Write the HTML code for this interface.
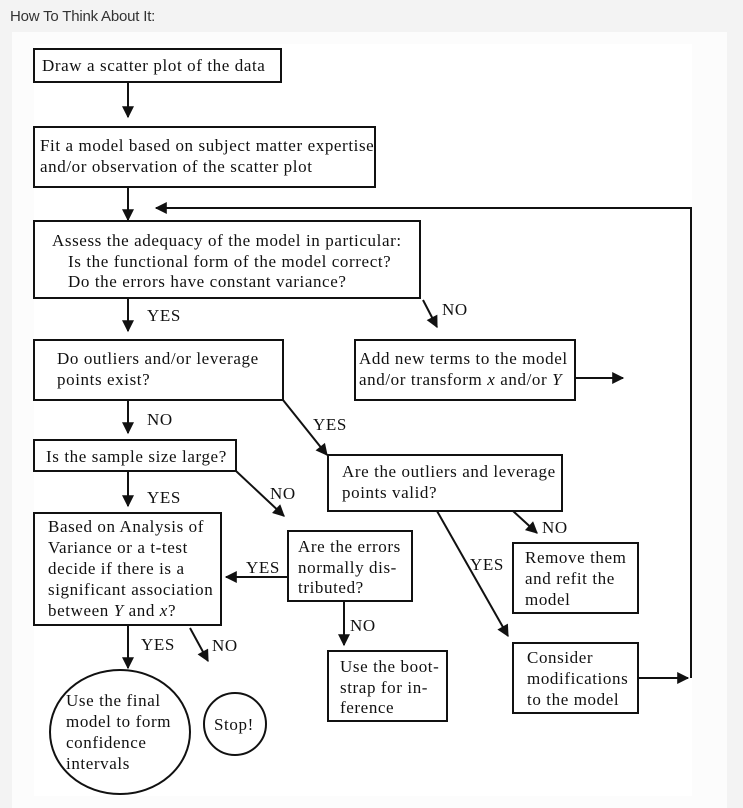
<!DOCTYPE html>
<html><head><meta charset="utf-8"><style>
html,body{margin:0;padding:0;background:#f3f3f3;width:743px;height:808px;overflow:hidden}
.h{position:absolute;left:10px;top:8px;font:15px "Liberation Sans",sans-serif;color:#333;letter-spacing:-0.2px}
.p{position:absolute;left:12px;top:32px;width:715px;height:776px;background:#fcfcfc}
svg{position:absolute;left:0;top:0}
text{font-family:"Liberation Serif",serif;font-size:17px;letter-spacing:0.6px;fill:#111}
</style></head><body>
<div class="h">How To Think About It:</div>
<div class="p"></div>
<svg width="743" height="808" viewBox="0 0 743 808">
<defs><marker id="a" viewBox="0 0 10 10" refX="9" refY="5" markerWidth="13" markerHeight="12" markerUnits="userSpaceOnUse" orient="auto"><path d="M0,0L10,5L0,10z" fill="#111"/></marker></defs>
<rect x="34" y="44" width="658" height="752" fill="#fff"/>
<g fill="none" stroke="#111" stroke-width="2">
<rect x="34" y="49" width="247" height="33"/>
<rect x="34" y="127" width="341" height="60"/>
<rect x="34" y="221" width="386" height="77"/>
<rect x="34" y="340" width="249" height="60"/>
<rect x="355" y="340" width="220" height="60"/>
<rect x="34" y="440" width="202" height="31"/>
<rect x="328" y="455" width="234" height="56"/>
<rect x="34" y="513" width="187" height="112"/>
<rect x="288" y="531" width="124" height="70"/>
<rect x="513" y="543" width="125" height="70"/>
<rect x="513" y="643" width="125" height="70"/>
<rect x="328" y="651" width="119" height="70"/>
<ellipse cx="120" cy="732" rx="70" ry="62"/>
<circle cx="235" cy="724" r="31"/>
<g marker-end="url(#a)">
<line x1="128" y1="82" x2="128" y2="117"/>
<line x1="128" y1="187" x2="128" y2="220"/>
<polyline points="691,678 691,208 156,208"/>
<line x1="128" y1="298" x2="128" y2="331"/>
<line x1="423" y1="300" x2="437" y2="327"/>
<line x1="575" y1="378" x2="623" y2="378"/>
<line x1="128" y1="400" x2="128" y2="433"/>
<line x1="283" y1="400" x2="327" y2="455"/>
<line x1="128" y1="471" x2="128" y2="506"/>
<line x1="236" y1="471" x2="284" y2="516"/>
<line x1="513" y1="511" x2="537" y2="533"/>
<line x1="437" y1="511" x2="508" y2="636"/>
<line x1="288" y1="577" x2="226" y2="577"/>
<line x1="344" y1="601" x2="344" y2="645"/>
<line x1="638" y1="678" x2="688" y2="678"/>
<line x1="128" y1="625" x2="128" y2="668"/>
<line x1="190" y1="628" x2="208" y2="661"/>
</g></g>
<text x="42" y="71">Draw a scatter plot of the data</text>
<text x="40" y="151">Fit a model based on subject matter expertise</text>
<text x="40" y="172">and/or observation of the scatter plot</text>
<text x="52" y="246">Assess the adequacy of the model in particular:</text>
<text x="68" y="267">Is the functional form of the model correct?</text>
<text x="68" y="287">Do the errors have constant variance?</text>
<text x="147" y="321">YES</text>
<text x="442" y="315">NO</text>
<text x="57" y="364">Do outliers and/or leverage</text>
<text x="57" y="385">points exist?</text>
<text x="359" y="364" letter-spacing="0.2">Add new terms to the model</text>
<text x="359" y="385" letter-spacing="0.2">and/or transform <tspan font-style="italic">x</tspan> and/or <tspan font-style="italic">Y</tspan></text>
<text x="147" y="425">NO</text>
<text x="313" y="430">YES</text>
<text x="46" y="462">Is the sample size large?</text>
<text x="147" y="503">YES</text>
<text x="270" y="499">NO</text>
<text x="342" y="477">Are the outliers and leverage</text>
<text x="342" y="498">points valid?</text>
<text x="542" y="533">NO</text>
<text x="470" y="570">YES</text>
<text x="48" y="532">Based on Analysis of</text>
<text x="48" y="553">Variance or a t-test</text>
<text x="48" y="574">decide if there is a</text>
<text x="48" y="595" letter-spacing="0.2">significant association</text>
<text x="48" y="616">between <tspan font-style="italic">Y</tspan> and <tspan font-style="italic">x</tspan>?</text>
<text x="298" y="552" letter-spacing="0.3">Are the errors</text>
<text x="298" y="573">normally dis-</text>
<text x="298" y="593">tributed?</text>
<text x="246" y="573">YES</text>
<text x="350" y="631">NO</text>
<text x="525" y="563" letter-spacing="0.3">Remove them</text>
<text x="525" y="584">and refit the</text>
<text x="525" y="605">model</text>
<text x="527" y="663">Consider</text>
<text x="527" y="684" letter-spacing="0.3">modifications</text>
<text x="527" y="705">to the model</text>
<text x="340" y="672" letter-spacing="0.3">Use the boot-</text>
<text x="340" y="693">strap for in-</text>
<text x="340" y="713">ference</text>
<text x="141" y="650">YES</text>
<text x="212" y="651">NO</text>
<text x="66" y="706">Use the final</text>
<text x="66" y="727" letter-spacing="0.3">model to form</text>
<text x="66" y="748">confidence</text>
<text x="66" y="769">intervals</text>
<text x="214" y="730" letter-spacing="0.2">Stop!</text>
</svg>
</body></html>
